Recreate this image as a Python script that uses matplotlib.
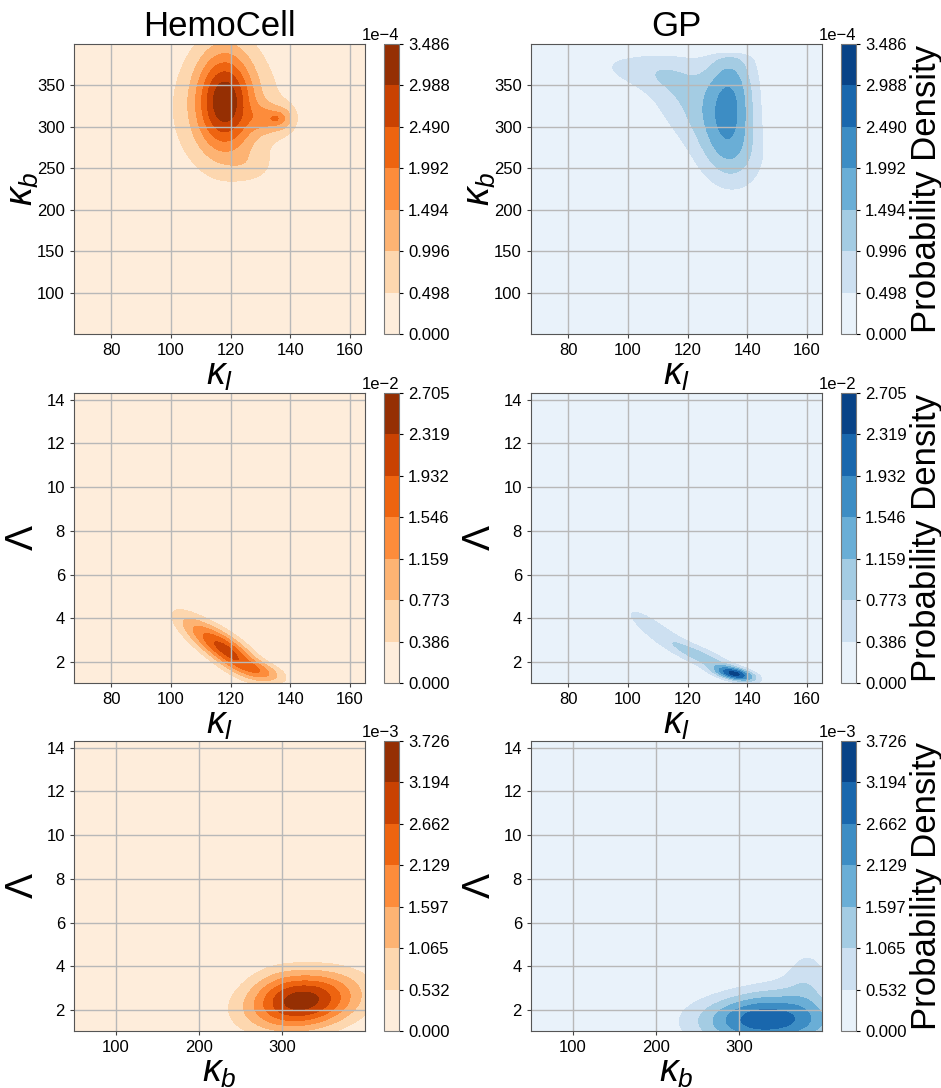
import numpy as np
import matplotlib
matplotlib.use("Agg")
import matplotlib.pyplot as plt
from matplotlib.ticker import ScalarFormatter

plt.rcParams['font.family'] = ['Liberation Sans', 'DejaVu Sans']
plt.rcParams['mathtext.fontset'] = 'custom'
plt.rcParams['mathtext.rm'] = 'Liberation Sans'
plt.rcParams['mathtext.it'] = 'Liberation Sans:italic'

# axis ranges
kl_range = [67.6, 165.0]
kb_range = [50.0, 400.0]
lam_range = [1.04, 14.3]

# top of the shared colour scale per row
row_vmax = [3.486e-4, 2.705e-2, 3.7264e-3]

xticks_kl = [80, 100, 120, 140, 160]
xticks_kb = [100, 200, 300]
yticks_kb = [100, 150, 200, 250, 300, 350]
yticks_lam = [2, 4, 6, 8, 10, 12, 14]

# blobs: centre x, centre y, spread x, spread y, correlation, peak height
hemo_kl_kb_cx = [118, 119, 133, 138, 135, 127]
hemo_kl_kb_cy = [332, 320, 310, 310, 310, 252]
hemo_kl_kb_sx = [6.5, 16.0, 4.5, 2.5, 1.5, 5.0]
hemo_kl_kb_sy = [42, 60, 12, 10, 4, 12]
hemo_kl_kb_rho = [0.0, 0.0, 0.0, 0.0, 0.0, 0.0]
hemo_kl_kb_amp = [2.65e-4, 0.8e-4, 1.0e-4, 0.5e-4, 0.4e-4, 0.3e-4]
hemo_kl_kb_top = None

gp_kl_kb_cx = [134.5, 122, 102, 135]
gp_kl_kb_cy = [335, 325, 368, 262]
gp_kl_kb_sx = [6.0, 12.0, 13.0, 8.0]
gp_kl_kb_sy = [50, 52, 18, 28]
gp_kl_kb_rho = [0.0, -0.6, -0.4, 0.0]
gp_kl_kb_amp = [1.75e-4, 1.0e-4, 0.5e-4, 0.45e-4]
gp_kl_kb_top = 389   # the GP samples stop just under 390

hemo_kl_lam_cx = [119, 131, 107]
hemo_kl_lam_cy = [2.5, 1.55, 3.6]
hemo_kl_lam_sx = [7.5, 5.5, 6.0]
hemo_kl_lam_sy = [0.8, 0.35, 0.7]
hemo_kl_lam_rho = [-0.75, -0.5, -0.7]
hemo_kl_lam_amp = [2.0e-2, 0.85e-2, 0.55e-2]
hemo_kl_lam_top = None

gp_kl_lam_cx = [136, 126, 108]
gp_kl_lam_cy = [1.45, 2.15, 3.6]
gp_kl_lam_sx = [4.5, 9.0, 8.0]
gp_kl_lam_sy = [0.22, 0.62, 0.8]
gp_kl_lam_rho = [-0.5, -0.85, -0.85]
gp_kl_lam_amp = [2.0e-2, 0.9e-2, 0.55e-2]
gp_kl_lam_top = None

hemo_kb_lam_cx = [325, 295]
hemo_kb_lam_cy = [2.4, 3.3]
hemo_kb_lam_sx = [46, 25]
hemo_kb_lam_sy = [0.9, 0.7]
hemo_kb_lam_rho = [0.2, 0.0]
hemo_kb_lam_amp = [3.45e-3, 0.3e-3]
hemo_kb_lam_top = None

gp_kb_lam_cx = [336, 382, 340]
gp_kb_lam_cy = [1.5, 3.5, 2.5]
gp_kb_lam_sx = [58, 18, 50]
gp_kb_lam_sy = [0.8, 1.2, 1.1]
gp_kb_lam_rho = [0.0, 0.0, 0.6]
gp_kb_lam_amp = [2.8e-3, 0.55e-3, 0.45e-3]
gp_kb_lam_top = None


def density(X, Y, cx, cy, sx, sy, rho, amp, top):
    Z = np.zeros_like(X)
    for i in range(len(cx)):
        dx = (X - cx[i]) / sx[i]
        dy = (Y - cy[i]) / sy[i]
        q = (dx**2 - 2 * rho[i] * dx * dy + dy**2) / (1 - rho[i]**2)
        Z += amp[i] * np.exp(-0.5 * q)
    if top is not None:
        Z = Z / (1 + np.exp((Y - top) / 3.0))
    return Z


class Fixed3Formatter(ScalarFormatter):
    def _set_format(self):
        self.format = '%1.3f'


panels = [
    [(kl_range, kb_range, hemo_kl_kb_cx, hemo_kl_kb_cy, hemo_kl_kb_sx, hemo_kl_kb_sy, hemo_kl_kb_rho, hemo_kl_kb_amp, hemo_kl_kb_top),
     (kl_range, kb_range, gp_kl_kb_cx, gp_kl_kb_cy, gp_kl_kb_sx, gp_kl_kb_sy, gp_kl_kb_rho, gp_kl_kb_amp, gp_kl_kb_top)],
    [(kl_range, lam_range, hemo_kl_lam_cx, hemo_kl_lam_cy, hemo_kl_lam_sx, hemo_kl_lam_sy, hemo_kl_lam_rho, hemo_kl_lam_amp, hemo_kl_lam_top),
     (kl_range, lam_range, gp_kl_lam_cx, gp_kl_lam_cy, gp_kl_lam_sx, gp_kl_lam_sy, gp_kl_lam_rho, gp_kl_lam_amp, gp_kl_lam_top)],
    [(kb_range, lam_range, hemo_kb_lam_cx, hemo_kb_lam_cy, hemo_kb_lam_sx, hemo_kb_lam_sy, hemo_kb_lam_rho, hemo_kb_lam_amp, hemo_kb_lam_top),
     (kb_range, lam_range, gp_kb_lam_cx, gp_kb_lam_cy, gp_kb_lam_sx, gp_kb_lam_sy, gp_kb_lam_rho, gp_kb_lam_amp, gp_kb_lam_top)],
]
xlabels = [r'$\kappa_l$', r'$\kappa_l$', r'$\kappa_b$']
ylabels = [r'$\kappa_b$', r'$\Lambda$', r'$\Lambda$']
xticks = [xticks_kl, xticks_kl, xticks_kb]
yticks = [yticks_kb, yticks_lam, yticks_lam]
cmaps = ['Oranges', 'Blues']
titles = ['HemoCell', 'GP']

W, H = 941, 1088
fig = plt.figure(figsize=(W / 100, H / 100), dpi=100)

ax_left = [74, 531]
cb_left = [384, 841]
ax_top = [44, 393, 741]
ax_w, ax_h, cb_w = 291, 290, 15

for r in range(3):
    levels = np.linspace(0, row_vmax[r], 8)
    for c in range(2):
        xr, yr, cx, cy, sx, sy, rho, amp, top = panels[r][c]
        x = np.linspace(xr[0], xr[1], 300)
        y = np.linspace(yr[0], yr[1], 300)
        X, Y = np.meshgrid(x, y)
        Z = density(X, Y, cx, cy, sx, sy, rho, amp, top)
        Z = np.clip(Z, 0, row_vmax[r])

        ax = fig.add_axes([ax_left[c] / W, 1 - (ax_top[r] + ax_h) / H, ax_w / W, ax_h / H])
        cs = ax.contourf(X, Y, Z, levels=levels, cmap=cmaps[c])
        ax.set_xlim(xr)
        ax.set_ylim(yr)
        ax.set_xticks(xticks[r])
        ax.set_yticks(yticks[r])
        ax.grid(True, color='#b8b8b8', linewidth=1.0)
        ax.tick_params(labelsize=12, length=3, color='#444444')
        for s in ax.spines.values():
            s.set_color('#555555')
        ax.set_xlabel(xlabels[r], fontsize=27, labelpad=-1)
        ax.set_ylabel(ylabels[r], fontsize=27)
        ax.yaxis.set_label_coords(-0.115, 0.5)
        if r == 0:
            ax.set_title(titles[c], fontsize=25, pad=6)

        cax = fig.add_axes([cb_left[c] / W, 1 - (ax_top[r] + ax_h) / H, cb_w / W, ax_h / H])
        cb = fig.colorbar(cs, cax=cax, ticks=levels)
        fmt = Fixed3Formatter(useMathText=False)
        fmt.set_powerlimits((0, 0))
        cb.formatter = fmt
        cb.update_ticks()
        cb.ax.tick_params(labelsize=12, length=3)
        cb.outline.set_edgecolor('#777777')
        cb.ax.yaxis.get_offset_text().set_fontsize(12)
        if c == 1:
            cb.set_label('Probability Density', fontsize=25, labelpad=2)

fig.savefig('out.png', dpi=100)
